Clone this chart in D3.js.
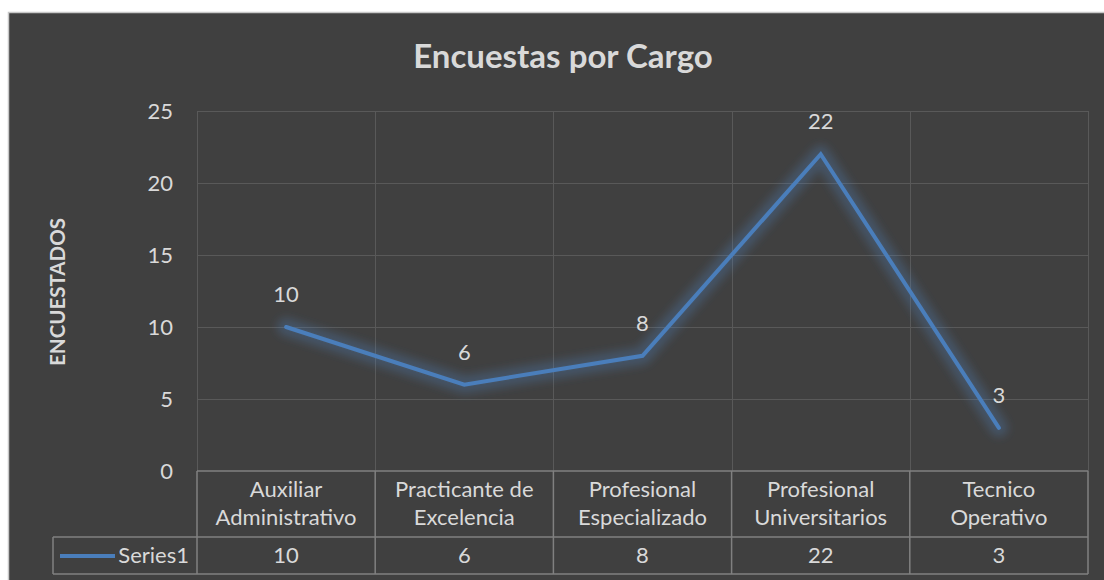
<!DOCTYPE html>
<html><head><meta charset="utf-8">
<script src="https://cdn.jsdelivr.net/npm/d3@7"></script>
<style>body{margin:0;background:#fff}svg{display:block}text{font-family:Lato,"Noto Sans",sans-serif}</style>
</head><body><svg id="c" width="1104" height="580"></svg>
<script>
const categories = [["Auxiliar","Administrativo"],["Practicante de","Excelencia"],["Profesional","Especializado"],["Profesional","Universitarios"],["Tecnico","Operativo"]];
const seriesName = "Series1";
const values = [10, 6, 8, 22, 3];
const yTicks = [0, 5, 10, 15, 20, 25];
const title = "Encuestas por Cargo";
const yTitle = "ENCUESTADOS";

const svg = d3.select("#c");
const W = 1104, H = 580;
const L = 197, R = 1088, T = 111, B = 471, HB = 537, VB = 574, LEG = 53;
const txt = "#d9d9d9", grid = "#595959", tline = "#808080", blue = "#4a7ebb";
const fs = 22;

svg.append("rect").attr("x", 8.5).attr("y", 12.5).attr("width", W).attr("height", H)
  .attr("fill", "#404040").attr("stroke", "#c8c8c8").attr("stroke-width", 1.5);

const defs = svg.append("defs");
const f = defs.append("filter").attr("id", "glow").attr("x", "-20%").attr("y", "-20%").attr("width", "140%").attr("height", "140%");
f.append("feGaussianBlur").attr("stdDeviation", 4);

const x = d3.scaleBand().domain(d3.range(categories.length)).range([L, R]).paddingInner(0).paddingOuter(0);
const y = d3.scaleLinear().domain([0, 25]).range([B, T]);

// horizontal gridlines
svg.append("g").selectAll("line").data(yTicks.filter(d => d > 0)).join("line")
  .attr("x1", L).attr("x2", R).attr("y1", d => Math.round(y(d)) + 0.5).attr("y2", d => Math.round(y(d)) + 0.5)
  .attr("stroke", grid).attr("stroke-width", 1);
// vertical gridlines
const bounds = d3.range(categories.length + 1).map(i => i < categories.length ? x(i) : R);
svg.append("g").selectAll("line").data(bounds).join("line")
  .attr("x1", d => Math.round(d) + 0.5).attr("x2", d => Math.round(d) + 0.5).attr("y1", T).attr("y2", B)
  .attr("stroke", grid).attr("stroke-width", 1);

// y axis
const yAxis = svg.append("g").attr("transform", `translate(${L},0)`)
  .call(d3.axisLeft(y).tickValues(yTicks).tickSize(0).tickPadding(24));
yAxis.select(".domain").remove();
yAxis.selectAll("text").attr("fill", txt).style("font-size", fs + "px").style("font-family", "Lato");

// titles
svg.append("text").attr("x", 563).attr("y", 68).attr("text-anchor", "middle")
  .attr("fill", txt).style("font-size", "33px").style("font-weight", "bold").text(title);
svg.append("text").attr("transform", "translate(65,292) rotate(-90)").attr("text-anchor", "middle")
  .attr("fill", txt).style("font-size", "20.5px").style("font-weight", "bold").text(yTitle);

// line
const line = d3.line().x((d, i) => x(i) + x.bandwidth() / 2).y(d => y(d));
svg.append("path").datum(values).attr("d", line).attr("fill", "none")
  .attr("stroke", "#4f81bd").attr("stroke-opacity", 0.3).attr("stroke-width", 18)
  .attr("stroke-linejoin", "round").attr("stroke-linecap", "round").attr("filter", "url(#glow)");
svg.append("path").datum(values).attr("d", line).attr("fill", "none")
  .attr("stroke", blue).attr("stroke-width", 4).attr("stroke-linejoin", "miter").attr("stroke-linecap", "round");

// data labels
svg.append("g").selectAll("text").data(values).join("text")
  .attr("x", (d, i) => x(i) + x.bandwidth() / 2).attr("y", d => y(d) - 25)
  .attr("text-anchor", "middle").attr("fill", txt).style("font-size", fs + "px").text(d => d);

// data table
const tg = svg.append("g").attr("stroke", tline).attr("stroke-width", 1.5).attr("fill", "none");
tg.append("line").attr("x1", L).attr("x2", R).attr("y1", B).attr("y2", B);
tg.append("line").attr("x1", LEG).attr("x2", R).attr("y1", HB).attr("y2", HB);
tg.append("line").attr("x1", LEG).attr("x2", R).attr("y1", VB).attr("y2", VB);
tg.append("line").attr("x1", LEG).attr("x2", LEG).attr("y1", HB).attr("y2", VB);
tg.selectAll("line.v").data(bounds).join("line").attr("class", "v")
  .attr("x1", d => d).attr("x2", d => d).attr("y1", B).attr("y2", VB);

const hg = svg.append("g");
categories.forEach((c, i) => {
  c.forEach((s, j) => {
    hg.append("text").attr("x", x(i) + x.bandwidth() / 2).attr("y", 497 + j * 28)
      .attr("text-anchor", "middle").attr("fill", txt).style("font-size", fs + "px").text(s);
  });
});
svg.append("g").selectAll("text").data(values).join("text")
  .attr("x", (d, i) => x(i) + x.bandwidth() / 2).attr("y", 563)
  .attr("text-anchor", "middle").attr("fill", txt).style("font-size", fs + "px").text(d => d);

// legend key
svg.append("line").attr("x1", 60).attr("x2", 115).attr("y1", 556).attr("y2", 556)
  .attr("stroke", blue).attr("stroke-width", 4);
svg.append("text").attr("x", 189).attr("y", 563).attr("text-anchor", "end")
  .attr("fill", txt).style("font-size", fs + "px").text(seriesName);
</script></body></html>
